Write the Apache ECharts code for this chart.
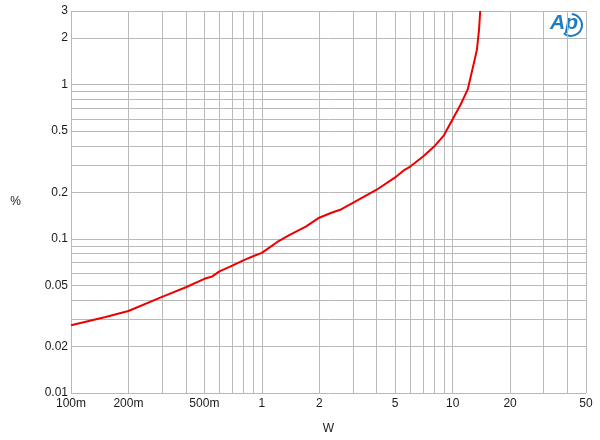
<!DOCTYPE html>
<html>
<head>
<meta charset="utf-8">
<script src="https://cdn.jsdelivr.net/npm/echarts@6/dist/echarts.min.js"></script>
<style>
html,body{margin:0;padding:0;background:#fff;}
#chart{width:600px;height:440px;}
</style>
</head>
<body>
<div id="chart"></div>
<script>
// ---- data ----
const powerW = [0.1, 0.15, 0.2, 0.3, 0.4, 0.5, 0.55, 0.6, 0.7, 0.8, 0.9, 1.0, 1.1, 1.2, 1.4, 1.7, 2, 2.3, 2.6, 3, 4, 5, 5.6, 6, 7, 8, 9, 10, 11, 12, 13, 13.4, 13.75, 13.95];
const thdPct = [0.0275, 0.031, 0.034, 0.042, 0.0485, 0.055, 0.057, 0.0615, 0.067, 0.0725, 0.077, 0.081, 0.088, 0.095, 0.106, 0.12, 0.137, 0.147, 0.155, 0.171, 0.208, 0.25, 0.28, 0.294, 0.342, 0.396, 0.469, 0.595, 0.74, 0.93, 1.42, 1.68, 2.26, 3.0];

const xTickValues = [0.1, 0.2, 0.5, 1, 2, 5, 10, 20, 50];
const xTickLabels = ['100m', '200m', '500m', '1', '2', '5', '10', '20', '50'];
const yTickValues = [0.01, 0.02, 0.05, 0.1, 0.2, 0.5, 1, 2, 3];
const yTickLabels = ['0.01', '0.02', '0.05', '0.1', '0.2', '0.5', '1', '2', '3'];

const xGridValues = [0.1, 0.2, 0.3, 0.4, 0.5, 0.6, 0.7, 0.8, 0.9, 1, 2, 3, 4, 5, 6, 7, 8, 9, 10, 20, 30, 40, 50];
const yGridValues = [0.01, 0.02, 0.03, 0.04, 0.05, 0.06, 0.07, 0.08, 0.09, 0.1, 0.2, 0.3, 0.4, 0.5, 0.6, 0.7, 0.8, 0.9, 1, 2, 3];

// ---- build options ----
const FONT = 'Liberation Sans, Arial, sans-serif';
const gridColor = '#b9b9b9';
const labelStyle = { color: '#1a1a1a', fontSize: 12, fontFamily: FONT };

const gridLines = [];
xGridValues.forEach(v => {
  const i = xTickValues.indexOf(v);
  gridLines.push({
    xAxis: v,
    label: i >= 0
      ? Object.assign({ show: true, position: 'start', distance: 5, formatter: xTickLabels[i] }, labelStyle)
      : { show: false }
  });
});
yGridValues.forEach(v => {
  const i = yTickValues.indexOf(v);
  gridLines.push({
    yAxis: v,
    label: i >= 0
      ? Object.assign({ show: true, position: 'start', distance: 3, formatter: yTickLabels[i] }, labelStyle)
      : { show: false }
  });
});

const chart = echarts.init(document.getElementById('chart'), null, { renderer: 'canvas' });
chart.setOption({
  animation: false,
  backgroundColor: '#ffffff',
  grid: { left: 71, right: 14, top: 11, bottom: 45 },
  xAxis: {
    type: 'log', logBase: 10, min: 0.1, max: 50,
    axisLine: { show: false }, axisTick: { show: false },
    axisLabel: { show: false }, splitLine: { show: false },
    name: 'W', nameLocation: 'middle', nameGap: 30,
    nameTextStyle: { color: '#1a1a1a', fontSize: 12, fontFamily: FONT }
  },
  yAxis: {
    type: 'log', logBase: 10, min: 0.01, max: 3,
    axisLine: { show: false }, axisTick: { show: false },
    axisLabel: { show: false }, splitLine: { show: false },
    name: '%', nameLocation: 'middle', nameGap: 50, nameRotate: 0,
    nameTextStyle: { color: '#1a1a1a', fontSize: 12, fontFamily: FONT }
  },
  series: [
    {
      name: 'grid', type: 'line', data: [[0.1, 0.01]], symbol: 'none',
      lineStyle: { opacity: 0 }, silent: true, z: 1,
      markLine: {
        silent: true, symbol: 'none', z: 1, animation: false,
        lineStyle: { color: gridColor, width: 1, type: 'solid' },
        emphasis: { disabled: true },
        data: gridLines
      }
    },
    {
      name: 'THD+N', type: 'line', z: 5,
      data: powerW.map((p, i) => [p, thdPct[i]]),
      symbol: 'none', smooth: false,
      lineStyle: { color: '#ee0000', width: 2 },
      clip: true
    }
  ],
  graphic: [
    {
      type: 'text', left: 550, top: 13,
      style: { text: 'Ap', fill: '#1f7cc0', font: 'italic bold 21px ' + FONT }
    },
    {
      type: 'arc',
      shape: { cx: 571, cy: 25, r: 11, startAngle: -1.5, endAngle: 2.3 },
      style: { stroke: '#1f7cc0', lineWidth: 2, fill: 'none' }
    }
  ]
});
</script>
</body>
</html>
